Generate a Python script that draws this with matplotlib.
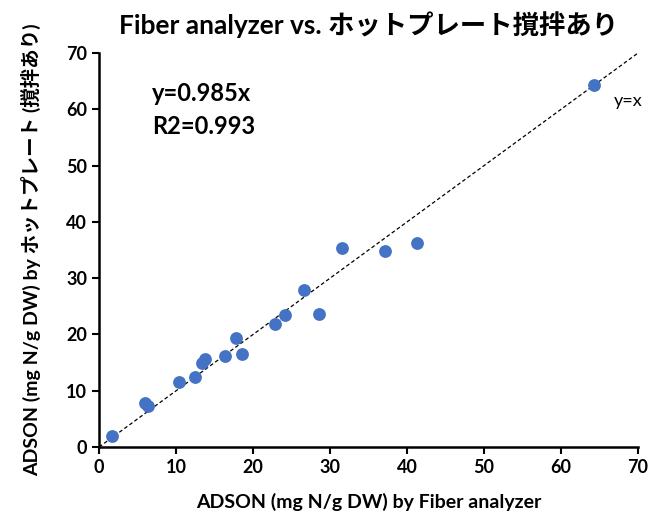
import matplotlib.pyplot as plt
import numpy as np

# Data
fiber_analyzer = [1.7, 5.9, 6.3, 10.4, 12.5, 13.4, 13.7, 16.3, 17.75, 18.5,
                  22.9, 24.2, 26.6, 28.6, 31.5, 37.1, 41.3, 64.3]
hotplate = [1.95, 7.9, 7.2, 11.6, 12.5, 14.9, 15.6, 16.2, 19.3, 16.6,
            21.9, 23.4, 27.9, 23.7, 35.3, 34.9, 36.3, 64.4]
ticks = [0, 10, 20, 30, 40, 50, 60, 70]

fonts = ['Lato', 'Noto Sans CJK JP', 'DejaVu Sans']
plt.rcParams['font.family'] = fonts

fig = plt.figure(figsize=(6.52, 5.15), dpi=100)
ax = fig.add_axes([0.152, 0.132, 0.8265, 0.765])

# y=x reference line
ax.plot([0, 70], [0, 70], color="black", linestyle=(0, (3, 2)), linewidth=0.9, zorder=1)
ax.scatter(fiber_analyzer, hotplate, s=85, color="#4472C4", zorder=2, linewidths=0)

ax.set_xlim(0, 70)
ax.set_ylim(0, 70)
ax.set_xticks(ticks)
ax.set_yticks(ticks)
ax.tick_params(direction="out", length=5, width=1.5, labelsize=13)
for lbl in ax.get_xticklabels() + ax.get_yticklabels():
    lbl.set_fontweight("bold")

for side in ["top", "right"]:
    ax.spines[side].set_visible(False)
for side in ["left", "bottom"]:
    ax.spines[side].set_linewidth(1.8)

ax.text(6.9, 59.9, "y=0.985x\nR2=0.993", fontsize=17, fontweight="bold",
        va="center", ha="left", linespacing=1.5)
ax.text(66.8, 61.5, "y=x", fontsize=13, va="center", ha="left")

ax.set_title("Fiber analyzer vs. ホットプレート撹拌あり", fontsize=19, fontweight="bold", pad=14)
ax.set_xlabel("ADSON (mg N/g DW) by Fiber analyzer", fontsize=14, fontweight="bold", labelpad=12)
ax.set_ylabel("ADSON (mg N/g DW) by ホットプレート (撹拌あり)", fontsize=14, fontweight="bold", labelpad=18)

plt.savefig("out.png", dpi=100)
